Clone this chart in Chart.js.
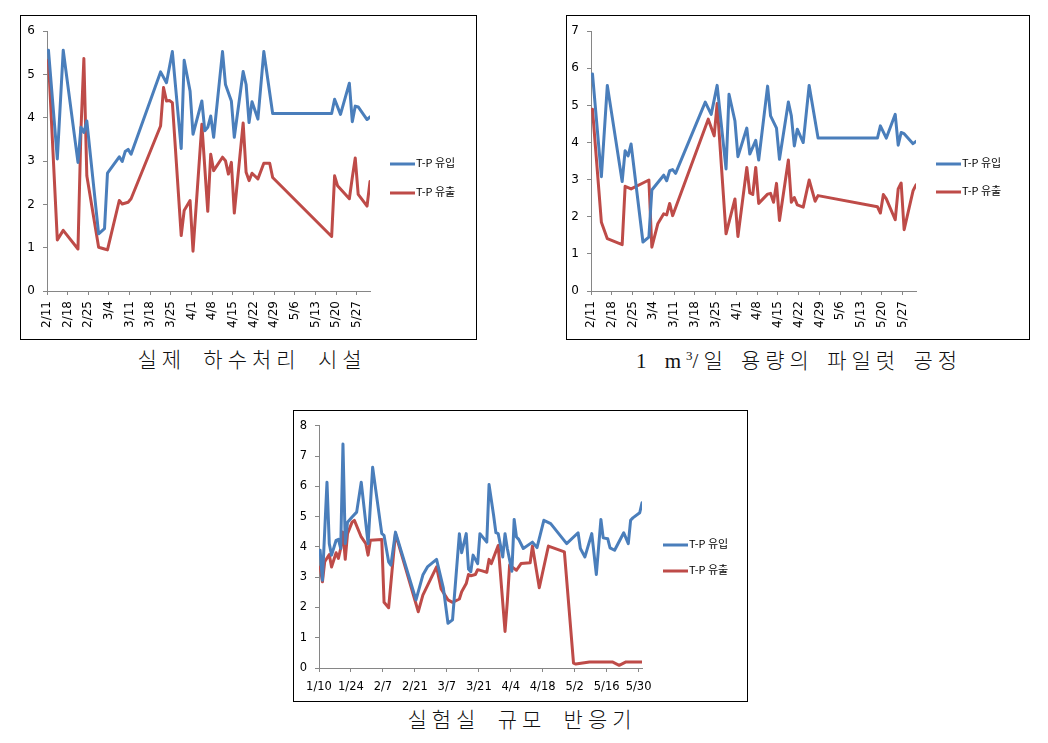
<!DOCTYPE html>
<html>
<head>
<meta charset="utf-8">
<script src="https://cdn.jsdelivr.net/npm/chart.js@4.4.0/dist/chart.umd.min.js"></script>
<style>
  body { margin: 0; background: #fff; width: 1048px; height: 743px; position: relative; overflow: hidden; }
  .box { position: absolute; border: 1px solid #000; box-sizing: border-box; background: #fff; }
  .box canvas { position: absolute; left: 0; top: 0; }
  .leg { position: absolute; font: 11px "Noto Sans CJK KR", sans-serif; line-height: 1; color: #000; white-space: nowrap; transform: translateY(-50%); }
  .leg .ln { display: inline-block; width: 25px; height: 3px; vertical-align: middle; margin-right: 1px; }
  .cap { position: absolute; font-family: "Liberation Serif", "Noto Sans CJK KR", serif; font-weight: 300; font-size: 21px;
         letter-spacing: 5px; word-spacing: 7px; color: #111; white-space: nowrap; transform: translate(-50%, -50%); line-height: 1; }
  .cap sup { font-size: 13px; letter-spacing: 0; }
</style>
</head>
<body>

<div class="box" style="left:20px; top:15px; width:457px; height:325px;"><canvas id="plant" width="455" height="323"></canvas></div>
<div class="box" style="left:566px; top:15px; width:464px; height:325px;"><canvas id="pilot" width="462" height="323"></canvas></div>
<div class="box" style="left:293px; top:410px; width:455px; height:292px;"><canvas id="lab" width="453" height="290"></canvas></div>

<div class="cap" style="left:252px; top:360px;">실제 하수처리 시설</div>
<div class="cap" style="left:799px; top:360px; word-spacing: 3px;">1 m<sup>3</sup>/일 용량의 파일럿 공정</div>
<div class="cap" style="left:522px; top:720px;">실험실 규모 반응기</div>

<script>
var SERIES_NAMES = ['T-P 유입', 'T-P 유출'];
var SERIES_COLORS = ['#4A7EBB', '#BE4B48'];

// 실제 하수처리 시설 - days counted from 2/11
var plantInDays = [0, 3, 5, 10, 11, 12, 13, 17, 19, 20, 24, 25, 26, 27, 28, 38, 40, 42, 45, 46, 48, 49, 52, 53, 54, 55, 56, 59, 60, 62, 63, 66, 67, 68, 69, 71, 73, 76, 96, 97, 99, 102, 103, 104, 105, 108, 109];
var plantIn = [5.56, 3.05, 5.56, 2.97, 3.78, 3.66, 3.93, 1.32, 1.44, 2.72, 3.10, 2.99, 3.22, 3.27, 3.16, 5.06, 4.81, 5.53, 3.29, 5.33, 4.62, 3.62, 4.39, 3.70, 3.78, 4.04, 3.55, 5.53, 4.77, 4.39, 3.55, 5.07, 4.77, 3.89, 4.37, 3.97, 5.53, 4.10, 4.10, 4.43, 4.08, 4.80, 3.91, 4.27, 4.25, 3.96, 4.02];
var plantOutDays = [0, 3, 5, 10, 11, 12, 13, 17, 19, 20, 24, 25, 27, 28, 38, 39, 40, 41, 42, 45, 46, 48, 49, 52, 54, 55, 56, 59, 60, 61, 62, 63, 66, 67, 68, 69, 71, 73, 75, 76, 96, 97, 98, 102, 103, 104, 105, 108, 109];
var plantOut = [5.33, 1.18, 1.40, 0.97, 3.70, 5.37, 2.66, 1.01, 0.97, 0.95, 2.09, 2.01, 2.05, 2.13, 3.81, 4.70, 4.39, 4.40, 4.35, 1.28, 1.86, 2.09, 0.92, 3.85, 1.84, 3.16, 2.78, 3.09, 3.01, 2.70, 2.97, 1.80, 3.88, 2.74, 2.55, 2.72, 2.59, 2.95, 2.95, 2.62, 1.26, 2.66, 2.43, 2.13, 2.62, 3.07, 2.23, 1.96, 2.53];

// 1 m3/일 파일럿 공정 - days counted from 2/11
var pilotInDays = [0, 3, 5, 10, 11, 12, 13, 17, 19, 20, 24, 25, 26, 27, 28, 38, 40, 42, 45, 46, 48, 49, 52, 53, 55, 56, 59, 60, 62, 63, 66, 67, 68, 69, 71, 73, 76, 96, 97, 99, 102, 103, 104, 105, 108, 109];
var pilotIn = [5.85, 3.08, 5.54, 2.95, 3.78, 3.64, 3.96, 1.32, 1.45, 2.72, 3.12, 2.97, 3.24, 3.27, 3.17, 5.09, 4.76, 5.54, 3.29, 5.30, 4.58, 3.62, 4.39, 3.69, 4.06, 3.53, 5.52, 4.72, 4.39, 3.55, 5.09, 4.72, 3.91, 4.36, 4.00, 5.54, 4.12, 4.12, 4.45, 4.12, 4.76, 3.93, 4.27, 4.24, 3.97, 4.03];
var pilotOutDays = [0, 3, 4, 5, 10, 11, 13, 17, 19, 20, 22, 24, 25, 26, 27, 39, 41, 42, 45, 48, 49, 52, 53, 54, 55, 56, 59, 60, 61, 62, 63, 66, 67, 68, 69, 71, 73, 75, 76, 96, 97, 98, 99, 102, 103, 104, 105, 108, 109];
var pilotOut = [4.90, 1.85, 1.63, 1.41, 1.25, 2.82, 2.75, 2.91, 2.99, 1.18, 1.81, 2.08, 2.05, 2.36, 2.03, 4.63, 4.18, 5.05, 1.54, 2.48, 1.47, 3.33, 2.64, 2.60, 3.33, 2.36, 2.61, 2.63, 2.39, 2.90, 1.90, 3.53, 2.39, 2.52, 2.32, 2.26, 2.99, 2.42, 2.57, 2.27, 2.10, 2.60, 2.48, 1.92, 2.75, 2.91, 1.65, 2.70, 2.86];

var weekLabels = ['2/11', '2/18', '2/25', '3/4', '3/11', '3/18', '3/25', '4/1', '4/8', '4/15', '4/22', '4/29', '5/6', '5/13', '5/20', '5/27'];

// 실험실 규모 반응기 - days counted from 1/10
var labInDays = [0, 1, 3, 4, 5, 7, 8, 9, 10, 11, 12, 14, 16, 18, 21, 23, 27, 28, 30, 31, 33, 42, 45, 47, 51, 54, 56, 58, 61, 62, 64, 65, 66, 67, 69, 70, 73, 74, 76, 77, 78, 80, 81, 82, 84, 85, 86, 87, 89, 93, 95, 98, 101, 108, 113, 114, 116, 119, 121, 123, 124, 126, 127, 129, 133, 135, 136, 137, 140, 141];
var labIn = [3.89, 2.90, 6.14, 4.11, 3.73, 4.22, 4.25, 3.95, 7.40, 4.11, 4.82, 4.99, 5.15, 6.14, 4.11, 6.63, 4.44, 4.38, 3.51, 3.40, 4.49, 2.25, 3.07, 3.34, 3.59, 2.63, 1.48, 1.59, 4.44, 3.81, 4.44, 3.27, 3.18, 3.73, 3.45, 4.44, 4.16, 6.06, 5.04, 4.47, 4.44, 3.67, 4.44, 3.95, 3.20, 4.91, 4.33, 4.25, 3.95, 4.16, 3.98, 4.88, 4.77, 4.11, 4.47, 3.95, 3.67, 4.44, 3.09, 4.91, 4.30, 4.27, 3.97, 3.89, 4.47, 4.11, 4.88, 4.96, 5.13, 5.46];
var labOutDays = [0, 1, 2, 4, 5, 7, 8, 9, 10, 11, 12, 14, 15, 18, 20, 21, 22, 27, 28, 30, 33, 43, 45, 51, 53, 56, 58, 61, 62, 64, 65, 66, 68, 69, 71, 73, 74, 75, 78, 79, 81, 82, 83, 86, 88, 92, 93, 96, 100, 107, 111, 112, 118, 128, 131, 134, 140, 141];
var labOut = [3.34, 2.85, 3.51, 3.75, 3.34, 3.81, 3.62, 3.95, 4.49, 3.59, 4.44, 4.82, 4.88, 4.33, 4.11, 3.73, 4.22, 4.25, 2.17, 1.99, 4.44, 1.86, 2.41, 3.34, 2.61, 2.25, 2.17, 2.28, 2.52, 2.79, 3.09, 3.05, 3.09, 3.25, 3.21, 3.16, 3.59, 3.45, 4.05, 3.10, 1.21, 2.19, 3.40, 3.23, 3.45, 3.48, 4.03, 2.65, 4.03, 3.84, 0.16, 0.13, 0.20, 0.20, 0.09, 0.20, 0.20, 0.20];

var labLabels = ['1/10', '1/24', '2/7', '2/21', '3/7', '3/21', '4/4', '4/18', '5/2', '5/16', '5/30'];

function pts(days, vals) {
  return days.map(function(d, i) { return {x: d, y: vals[i]}; });
}

function makeChart(id, o) {
  var axisCol = '#868686';
  var tickFont = {family: 'DejaVu Sans', size: o.fontSize};
  var series = [[o.inDays, o.inVals], [o.outDays, o.outVals]];
  return new Chart(document.getElementById(id), {
    type: 'line',
    data: {
      datasets: series.map(function(s, i) {
        return {
          label: SERIES_NAMES[i],
          data: pts(s[0], s[1]),
          borderColor: SERIES_COLORS[i],
          backgroundColor: SERIES_COLORS[i],
          borderWidth: 3,
          borderJoinStyle: 'round',
          borderCapStyle: 'round',
          pointRadius: 0,
          tension: 0,
          fill: false
        };
      })
    },
    options: {
      responsive: false,
      animation: false,
      devicePixelRatio: 1,
      layout: {padding: {left: 0, top: o.padTop, right: o.padRight, bottom: 0}},
      plugins: {legend: {display: false}, tooltip: {enabled: false}},
      scales: {
        x: {
          type: 'linear',
          min: -0.5,
          max: o.xMax,
          afterBuildTicks: function(s) {
            s.ticks = o.labels.map(function(l, i) { return {value: i * o.step - 0.5}; });
          },
          afterFit: function(s) { s.height = o.xHeight; },
          ticks: {
            autoSkip: false, maxRotation: o.rot, minRotation: o.rot, padding: o.xPad,
            color: '#000', font: tickFont,
            callback: function(v, i) { return o.labels[i]; }
          },
          grid: {drawOnChartArea: false, tickLength: 4, color: axisCol},
          border: {color: axisCol, width: 1}
        },
        y: {
          min: 0,
          max: o.yMax,
          afterFit: function(s) { s.width = o.yWidth; },
          ticks: {stepSize: 1, padding: 8, color: '#000', font: tickFont},
          grid: {drawOnChartArea: false, tickLength: 4, color: axisCol},
          border: {color: axisCol, width: 1}
        }
      }
    }
  });
}

function makeLegend(left, tops) {
  SERIES_NAMES.forEach(function(name, i) {
    var d = document.createElement('div');
    d.className = 'leg';
    d.style.left = left + 'px';
    d.style.top = tops[i] + 'px';
    d.innerHTML = '<span class="ln" style="background:' + SERIES_COLORS[i] + '"></span>' + name;
    document.body.appendChild(d);
  });
}

makeChart('plant', {
  inDays: plantInDays, inVals: plantIn, outDays: plantOutDays, outVals: plantOut,
  labels: weekLabels, step: 7, xMax: 109, yMax: 6, rot: 90, xPad: 6, fontSize: 12,
  padTop: 15, padRight: 106, yWidth: 26, xHeight: 48
});
makeChart('pilot', {
  inDays: pilotInDays, inVals: pilotIn, outDays: pilotOutDays, outVals: pilotOut,
  labels: weekLabels, step: 7, xMax: 109, yMax: 7, rot: 90, xPad: 6, fontSize: 12,
  padTop: 15, padRight: 113, yWidth: 24, xHeight: 48
});
makeChart('lab', {
  inDays: labInDays, inVals: labIn, outDays: labOutDays, outVals: labOut,
  labels: labLabels, step: 14, xMax: 141, yMax: 8, rot: 0, xPad: 8, fontSize: 11.5,
  padTop: 14, padRight: 105, yWidth: 25, xHeight: 33
});

makeLegend(390, [162, 191]);
makeLegend(936, [162, 190]);
makeLegend(663, [543, 569]);
</script>
</body>
</html>
